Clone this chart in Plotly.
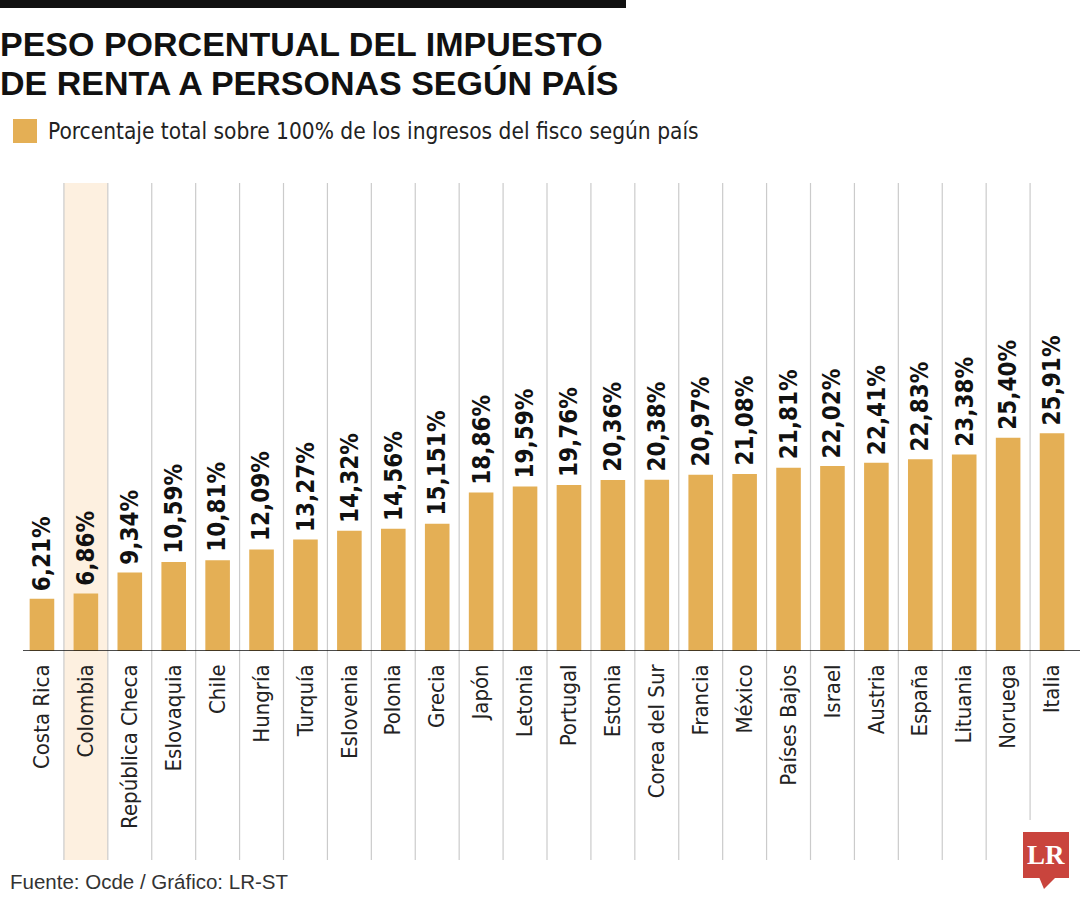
import plotly.graph_objects as go

countries = ["Costa Rica", "Colombia", "República Checa", "Eslovaquia", "Chile", "Hungría",
             "Turquía", "Eslovenia", "Polonia", "Grecia", "Japón", "Letonia", "Portugal",
             "Estonia", "Corea del Sur", "Francia", "México", "Países Bajos", "Israel",
             "Austria", "España", "Lituania", "Noruega", "Italia"]
values = [6.21, 6.86, 9.34, 10.59, 10.81, 12.09, 13.27, 14.32, 14.56, 15.151, 18.86, 19.59,
          19.76, 20.36, 20.38, 20.97, 21.08, 21.81, 22.02, 22.41, 22.83, 23.38, 25.40, 25.91]
value_labels = ["6,21%", "6,86%", "9,34%", "10,59%", "10,81%", "12,09%", "13,27%", "14,32%",
                "14,56%", "15,151%", "18,86%", "19,59%", "19,76%", "20,36%", "20,38%", "20,97%",
                "21,08%", "21,81%", "22,02%", "22,41%", "22,83%", "23,38%", "25,40%", "25,91%"]
highlight = "Colombia"

TITLE1 = "PESO PORCENTUAL DEL IMPUESTO"
TITLE2 = "DE RENTA A PERSONAS SEGÚN PAÍS"
LEGEND = "Porcentaje total sobre 100% de los ingresos del fisco según país"
SOURCE = "Fuente: Ocde / Gráfico: LR-ST"

W, H = 1080, 900
ML, MR, MT, MB = 20, 6, 183, 249
PW, PH = W - ML - MR, H - MT - MB
YMAX = PH / 8.4

BAR = "#E4AF55"
NARROW = "DejaVu Sans Condensed, Liberation Sans Narrow, sans-serif"
BOLD = "Liberation Sans, Arial, sans-serif"


def px(x):
    return (x - ML) / PW


def py(y):
    return (H - MB - y) / PH


fig = go.Figure()
fig.add_trace(go.Bar(
    x=list(range(len(countries))), y=values, width=0.56,
    marker=dict(color=BAR, line=dict(width=0)),
    hoverinfo="skip",
))

shapes = []
hi = countries.index(highlight)
shapes.append(dict(type="rect", xref="x", yref="paper", x0=hi - 0.5, x1=hi + 0.5,
                   y0=py(860), y1=py(183), fillcolor="#FDF0E0", line=dict(width=0), layer="below"))
for i in range(len(countries) - 1):
    ybot = py(820) if i == len(countries) - 2 else py(860)
    shapes.append(dict(type="line", xref="x", yref="paper", x0=i + 0.5, x1=i + 0.5,
                       y0=ybot, y1=py(183), line=dict(color="#CBCBCB", width=1.2), layer="below"))
# baseline
shapes.append(dict(type="line", xref="paper", yref="y", x0=px(23), x1=px(1080), y0=0, y1=0,
                   line=dict(color="#111111", width=1.5)))
# top bar
shapes.append(dict(type="rect", xref="paper", yref="paper", x0=px(0), x1=px(626), y0=py(8), y1=py(0),
                   fillcolor="#111111", line=dict(width=0)))
# legend swatch
shapes.append(dict(type="rect", xref="paper", yref="paper", x0=px(13), x1=px(37), y0=py(143), y1=py(119),
                   fillcolor=BAR, line=dict(width=0)))
# logo
LOGO = "#C9443D"
shapes.append(dict(type="rect", xref="paper", yref="paper", x0=px(1023), x1=px(1069), y0=py(878), y1=py(832),
                   fillcolor=LOGO, line=dict(width=0)))
shapes.append(dict(type="path", xref="paper", yref="paper",
                   path=f"M {px(1039)} {py(877)} L {px(1056)} {py(877)} L {px(1044)} {py(889)} Z",
                   fillcolor=LOGO, line=dict(width=0)))

annotations = []
for i, (v, lab) in enumerate(zip(values, value_labels)):
    annotations.append(dict(x=i, y=v, xref="x", yref="y", text=lab, showarrow=False,
                            textangle=-90, xanchor="center", yanchor="bottom", yshift=6,
                            font=dict(family=NARROW, size=24, color="#111111", weight="bold")))

annotations += [
    dict(x=px(-2), y=py(44), xref="paper", yref="paper", text=f"<b>{TITLE1}</b>", showarrow=False,
         xanchor="left", yanchor="middle", font=dict(family=BOLD, size=34, color="#111111")),
    dict(x=px(-2), y=py(83), xref="paper", yref="paper", text=f"<b>{TITLE2}</b>", showarrow=False,
         xanchor="left", yanchor="middle", font=dict(family=BOLD, size=34, color="#111111")),
    dict(x=px(46), y=py(131), xref="paper", yref="paper", text=LEGEND, showarrow=False,
         xanchor="left", yanchor="middle", font=dict(family=NARROW, size=22.5, color="#222222")),
    dict(x=px(8), y=py(881), xref="paper", yref="paper", text=SOURCE, showarrow=False,
         xanchor="left", yanchor="middle", font=dict(family=BOLD, size=20.5, color="#333333")),
    dict(x=px(1046), y=py(855), xref="paper", yref="paper", text="<b>LR</b>", showarrow=False,
         xanchor="center", yanchor="middle",
         font=dict(family="Liberation Serif, DejaVu Serif, serif", size=27, color="#FFFFFF")),
]

fig.update_layout(
    width=W, height=H, margin=dict(l=ML, r=MR, t=MT, b=MB, autoexpand=False),
    paper_bgcolor="white", plot_bgcolor="rgba(0,0,0,0)",
    showlegend=False, shapes=shapes, annotations=annotations,
    xaxis=dict(range=[-0.5, len(countries) - 0.5], tickmode="array",
               tickvals=list(range(len(countries))), ticktext=countries,
               tickangle=-90, ticks="", showgrid=False, zeroline=False, showline=False,
               ticklabelstandoff=8,
               tickfont=dict(family=NARROW, size=22, color="#222222")),
    yaxis=dict(range=[0, YMAX], visible=False, showgrid=False, zeroline=False),
)

fig.write_html("out.html")
